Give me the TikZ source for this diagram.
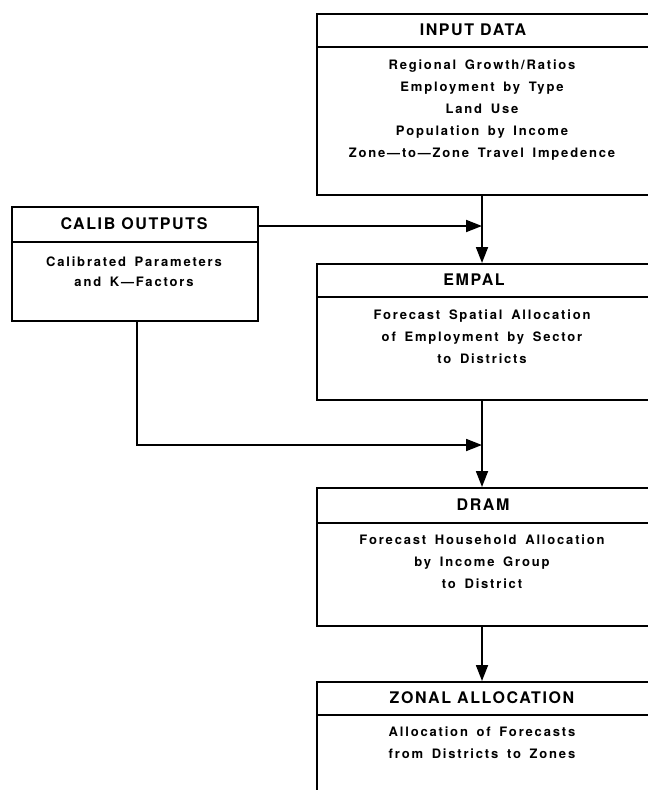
\documentclass[tikz,border=0pt]{standalone}
\usepackage{fontspec}
\newfontfamily\bodyf{TeX Gyre Heros}[LetterSpace=14,WordSpace=1.6]
\newfontfamily\titlef{TeX Gyre Heros}[LetterSpace=10]
\usetikzlibrary{arrows.meta}
\begin{document}
\begin{tikzpicture}[x=1pt,y=-1pt,
  box/.style={draw, line width=1.8pt, rectangle, inner sep=0pt, anchor=north west},
  divider/.style={line width=1.8pt},
  titletext/.style={font=\titlef\bfseries\fontsize{16}{18}\selectfont, inner sep=0pt, text height=11.5pt, text depth=0pt},
  bodytext/.style={font=\bodyf\bfseries\fontsize{13}{22}\selectfont, align=center, inner sep=0pt, anchor=north},
  conn/.style={line width=1.8pt},
  arr/.style={line width=1.8pt, -{Triangle[length=16pt,width=12pt]}}]
\useasboundingbox (0,0) rectangle (648,790);
\fill[white] (0,0) rectangle (648,790);
\clip (0,0) rectangle (648,790);

% boxes
\node[box, minimum width=338pt, minimum height=181pt] (input) at (316,13) {};
\node[box, minimum width=246pt, minimum height=114pt] (calib) at (11,206) {};
\node[box, minimum width=338pt, minimum height=136pt] (empal) at (316,263) {};
\node[box, minimum width=338pt, minimum height=138pt] (dram) at (316,487) {};
\node[box, minimum width=338pt, minimum height=140pt] (zonal) at (316,681) {};

% dividers
\draw[divider] (316,47) -- (654,47);
\draw[divider] (11,242) -- (257,242);
\draw[divider] (316,297) -- (654,297);
\draw[divider] (316,523) -- (654,523);
\draw[divider] (316,715) -- (654,715);

% titles
\node[titletext] (inputT) at (473,30) {INPUT DATA};
\node[titletext] (calibT) at (134,224) {CALIB OUTPUTS};
\node[titletext] (empalT) at (474,280) {EMPAL};
\node[titletext] (dramT) at (483,505) {DRAM};
\node[titletext] (zonalT) at (482,698) {ZONAL ALLOCATION};

% bodies
\node[bodytext] (inputB) at (482,60) {Regional Growth/Ratios\\Employment by Type\\Land Use\\Population by Income\\Zone—to—Zone Travel Impedence};
\node[bodytext, font=\bodyf\bfseries\fontsize{13}{20}\selectfont] (calibB) at (134,257) {Calibrated Parameters\\and K—Factors};
\node[bodytext] (empalB) at (482,310) {Forecast Spatial Allocation\\of Employment by Sector\\to Districts};
\node[bodytext] (dramB) at (482,535) {Forecast Household Allocation\\by Income Group\\to District};
\node[bodytext] (zonalB) at (482,727) {Allocation of Forecasts\\from Districts to Zones};

% connectors
\coordinate (ax) at (482,0);
\coordinate (j1) at (482,226);
\coordinate (j2) at (482,445);
\draw[arr] (input.south -| ax) -- (empal.north -| ax);
\draw[arr] (calib.east |- j1) -- (j1);
\draw[arr] (empal.south -| ax) -- (dram.north -| ax);
\draw[arr] ([xshift=2pt]calib.south) |- (j2);
\draw[arr] (dram.south -| ax) -- (zonal.north -| ax);
\end{tikzpicture}
\end{document}
